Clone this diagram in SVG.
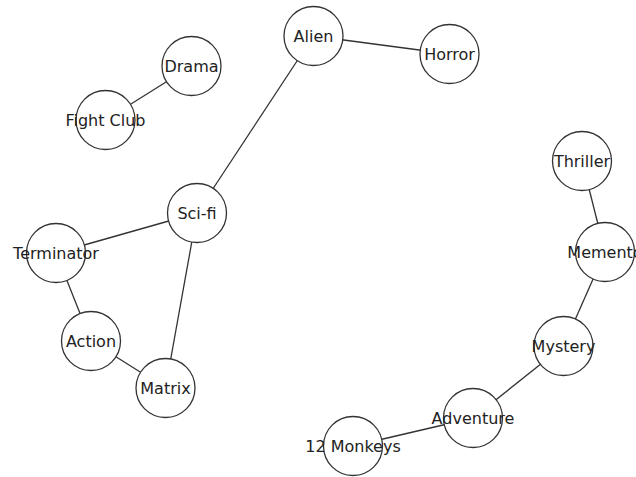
<svg xmlns="http://www.w3.org/2000/svg" width="636" height="477" viewBox="0 0 636 477">
  <style>
    .edge { stroke: #333; stroke-width: 1.3; fill: none; }
    .node circle { fill: #fff; stroke: #333; stroke-width: 1.3; }
    .node text { font-family: "DejaVu Sans", sans-serif; font-size: 16px; fill: #222; text-anchor: middle; dominant-baseline: central; }
  </style>
  <rect width="636" height="477" fill="#fff"/>
  <g id="edges">
    <line class="edge" x1="313.5" y1="36" x2="449.5" y2="54"/>
    <line class="edge" x1="313.5" y1="36" x2="197" y2="213"/>
    <line class="edge" x1="191.5" y1="66" x2="105.5" y2="120"/>
    <line class="edge" x1="197" y1="213" x2="56" y2="253"/>
    <line class="edge" x1="197" y1="213" x2="165.5" y2="388"/>
    <line class="edge" x1="56" y1="253" x2="91" y2="341"/>
    <line class="edge" x1="91" y1="341" x2="165.5" y2="388"/>
    <line class="edge" x1="582" y1="161" x2="605" y2="252"/>
    <line class="edge" x1="605" y1="252" x2="563.5" y2="346"/>
    <line class="edge" x1="563.5" y1="346" x2="473" y2="418"/>
    <line class="edge" x1="473" y1="418" x2="353" y2="446"/>
  </g>
  <g id="alien" class="node"><circle cx="313.5" cy="36" r="29.5"/><text x="313.5" y="36">Alien</text></g>
  <g id="horror" class="node"><circle cx="449.5" cy="54" r="29.5"/><text x="449.5" y="54">Horror</text></g>
  <g id="drama" class="node"><circle cx="191.5" cy="66" r="29.5"/><text x="191.5" y="66">Drama</text></g>
  <g id="fight-club" class="node"><circle cx="105.5" cy="120" r="29.5"/><text x="105.5" y="120">Fight Club</text></g>
  <g id="sci-fi" class="node"><circle cx="197" cy="213" r="29.5"/><text x="197" y="213">Sci-fi</text></g>
  <g id="terminator" class="node"><circle cx="56" cy="253" r="29.5"/><text x="56" y="253">Terminator</text></g>
  <g id="action" class="node"><circle cx="91" cy="341" r="29.5"/><text x="91" y="341">Action</text></g>
  <g id="matrix" class="node"><circle cx="165.5" cy="388" r="29.5"/><text x="165.5" y="388">Matrix</text></g>
  <g id="thriller" class="node"><circle cx="582" cy="161" r="29.5"/><text x="582" y="161">Thriller</text></g>
  <g id="memento" class="node"><circle cx="605" cy="252" r="29.5"/><text x="605" y="252">Memento</text></g>
  <g id="mystery" class="node"><circle cx="563.5" cy="346" r="29.5"/><text x="563.5" y="346">Mystery</text></g>
  <g id="adventure" class="node"><circle cx="473" cy="418" r="29.5"/><text x="473" y="418">Adventure</text></g>
  <g id="twelve-monkeys" class="node"><circle cx="353" cy="446" r="29.5"/><text x="353" y="446">12 Monkeys</text></g>
</svg>
